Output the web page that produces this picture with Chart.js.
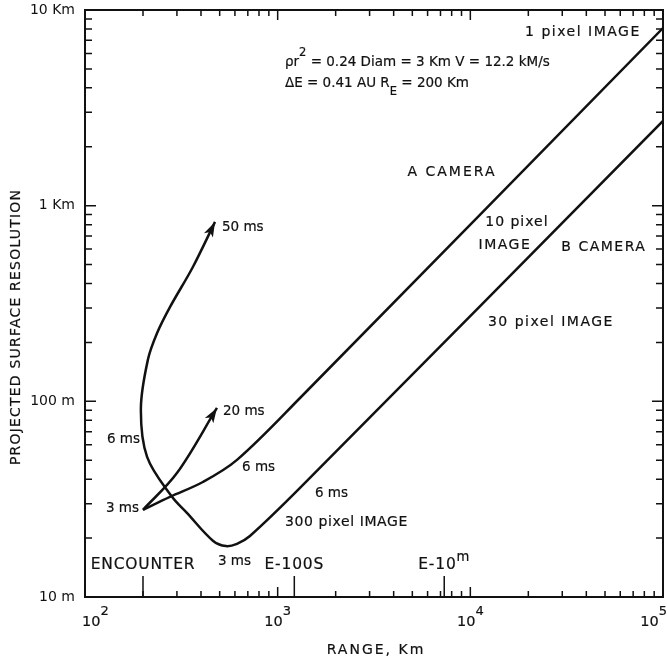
<!DOCTYPE html>
<html>
<head>
<meta charset="utf-8">
<script src="https://cdn.jsdelivr.net/npm/chart.js@4.4.1/dist/chart.umd.min.js"></script>
<style>
html, body { margin: 0; padding: 0; background: #fff; }
</style>
</head>
<body>
<canvas id="mycanvas" width="667" height="661"></canvas>
<script>
// range in Km, projected resolution in m

// A camera, 10 pixel image
var rangeA = [200, 276, 409, 615, 1306, 100000];
var resA = [27.9, 32.5, 38.7, 50.2, 104, 8090];

// 20 ms arrow
var range20 = [200, 300, 484];
var res20 = [27.9, 43, 92.5];

// B camera, 30 pixel image, curling back up to the 50 ms arrow
var rangeB = [100000, 1306, 718, 615, 539, 461, 338, 283, 210, 195, 212, 237, 276, 363, 473];
var resB = [2710, 36.1, 20.5, 18.7, 18.2, 19.4, 26.9, 32.5, 52, 92, 163, 224, 303, 486, 826];

// axis ticks
var xTickValues = [100, 1000, 10000, 100000];
var xTickLabels = ['10^2', '10^3', '10^4', '10^5'];
var yTickValues = [10, 100, 1000, 10000];
var yTickLabels = ['10 m', '100 m', '1 Km', '10 Km'];
var minorMult = [2, 3, 4, 5, 6, 7, 8, 9];

// event marks on the range axis
var eventLabels = ['ENCOUNTER', 'E-100S', 'E-10^m'];
var eventRange = [200, 1220, 7320];

var FONT = '"DejaVu Sans", sans-serif';

// text notes, placed in data coordinates
var notes = [
	{text: '1 pixel IMAGE', x: 38400, y: 7720, align: 'center', size: 14, sp: 1.5},
	{text: 'ρr^2 = 0.24 Diam = 3 Km V = 12.2 kM/s', x: 1091, y: 5423, align: 'left', size: 13.5, sp: 0},
	{text: 'ΔE = 0.41 AU R_E = 200 Km', x: 1091, y: 4188, align: 'left', size: 13.5, sp: 0},
	{text: 'A CAMERA', x: 8030, y: 1486, align: 'center', size: 14, sp: 2},
	{text: '10 pixel', x: 17450, y: 825, align: 'center', size: 14, sp: 1},
	{text: 'IMAGE', x: 15120, y: 630, align: 'center', size: 14, sp: 1.5},
	{text: 'B CAMERA', x: 49350, y: 615, align: 'center', size: 14, sp: 1.5},
	{text: '30 pixel IMAGE', x: 26200, y: 254.7, align: 'center', size: 14, sp: 1.5},
	{text: '50 ms', x: 514, y: 769, align: 'left', size: 13.5, sp: 0},
	{text: '20 ms', x: 520, y: 88.3, align: 'left', size: 13.5, sp: 0},
	{text: '6 ms', x: 130, y: 63.5, align: 'left', size: 13.5, sp: 0},
	{text: '3 ms', x: 128.5, y: 28.5, align: 'left', size: 13.5, sp: 0},
	{text: '6 ms', x: 653, y: 45.7, align: 'left', size: 13.5, sp: 0},
	{text: '6 ms', x: 1562, y: 34.0, align: 'left', size: 13.5, sp: 0},
	{text: '300 pixel IMAGE', x: 1091, y: 24.2, align: 'left', size: 14, sp: 0.6},
	{text: '3 ms', x: 490, y: 15.1, align: 'left', size: 13.5, sp: 0}
];

function pts(xs, ys) {
	return xs.map(function(v, i) { return {x: v, y: ys[i]}; });
}

// text with ^x superscript and _x subscript
function richText(ctx, text, x, y, o) {
	var size = o.size, raise = o.raise || 0.7, supScale = o.supScale || 0.85;
	var segs = [];
	for (var i = 0; i < text.length; i++) {
		var c = text[i];
		if ((c === '^' || c === '_') && i + 1 < text.length) {
			segs.push({t: text[i + 1], mode: c});
			i++;
		} else if (segs.length && segs[segs.length - 1].mode === '') {
			segs[segs.length - 1].t += c;
		} else {
			segs.push({t: c, mode: ''});
		}
	}
	ctx.letterSpacing = (o.sp || 0) + 'px';
	var total = 0;
	segs.forEach(function(s) {
		s.fs = s.mode ? size * supScale : size;
		ctx.font = s.fs + 'px ' + FONT;
		s.w = ctx.measureText(s.t).width;
		total += s.w;
	});
	var cx = o.align === 'center' ? x - total / 2 : x;
	if (o.minX !== undefined && cx < o.minX) cx = o.minX;
	if (o.maxX !== undefined && cx + total > o.maxX) cx = o.maxX - total;
	ctx.textAlign = 'left';
	ctx.textBaseline = 'middle';
	ctx.lineWidth = 0.2;
	segs.forEach(function(s) {
		ctx.font = s.fs + 'px ' + FONT;
		var dy = s.mode === '^' ? -size * raise : (s.mode === '_' ? size * 0.6 : 0);
		ctx.fillText(s.t, cx, y + dy);
		ctx.strokeText(s.t, cx, y + dy);
		cx += s.w;
	});
	ctx.letterSpacing = '0px';
}

var framePlugin = {
	id: 'frame',
	afterDatasetsDraw: function(chart) {
		var ctx = chart.ctx, ca = chart.chartArea;
		var xs = chart.scales.x, ys = chart.scales.y;
		ctx.save();
		ctx.strokeStyle = '#111';
		ctx.fillStyle = '#111';

		// arrow heads
		chart.data.datasets.forEach(function(ds, i) {
			if (!ds.arrowHead) return;
			var meta = chart.getDatasetMeta(i);
			var n = meta.data.length;
			var tip = meta.data[n - 1];
			var bx = tip.cp1x, by = tip.cp1y;
			if (bx === undefined || (Math.abs(bx - tip.x) < 0.5 && Math.abs(by - tip.y) < 0.5)) {
				bx = meta.data[n - 2].x; by = meta.data[n - 2].y;
			}
			var a = Math.atan2(tip.y - by, tip.x - bx);
			var len = 15, half = 5;
			ctx.beginPath();
			ctx.moveTo(tip.x, tip.y);
			ctx.lineTo(tip.x - len * Math.cos(a) + half * Math.sin(a), tip.y - len * Math.sin(a) - half * Math.cos(a));
			ctx.lineTo(tip.x - len * Math.cos(a) * 0.75, tip.y - len * Math.sin(a) * 0.75);
			ctx.lineTo(tip.x - len * Math.cos(a) - half * Math.sin(a), tip.y - len * Math.sin(a) + half * Math.cos(a));
			ctx.closePath();
			ctx.fill();
		});

		// frame
		ctx.lineWidth = 2;
		ctx.strokeRect(ca.left, ca.top, ca.right - ca.left, ca.bottom - ca.top);

		// inward ticks
		ctx.lineWidth = 1.5;
		function decades(scale, fn) {
			var lo = Math.round(Math.log10(scale.min)), hi = Math.round(Math.log10(scale.max));
			for (var k = lo; k <= hi; k++) {
				fn(Math.pow(10, k), true);
				if (k < hi) minorMult.forEach(function(m) { fn(m * Math.pow(10, k), false); });
			}
		}
		ctx.beginPath();
		decades(xs, function(v, major) {
			var px = xs.getPixelForValue(v), L = major ? 10 : 6;
			ctx.moveTo(px, ca.bottom); ctx.lineTo(px, ca.bottom - L);
			ctx.moveTo(px, ca.top); ctx.lineTo(px, ca.top + L);
		});
		decades(ys, function(v, major) {
			var py = ys.getPixelForValue(v), L = major ? 11 : 7;
			ctx.moveTo(ca.left, py); ctx.lineTo(ca.left + L, py);
			ctx.moveTo(ca.right, py); ctx.lineTo(ca.right - L, py);
		});
		ctx.stroke();

		// event marks
		ctx.lineWidth = 1.5;
		ctx.beginPath();
		eventRange.forEach(function(r) {
			var px = xs.getPixelForValue(r);
			ctx.moveTo(px, ca.bottom); ctx.lineTo(px, ca.bottom - 21);
		});
		ctx.stroke();

		// range axis labels
		xTickValues.forEach(function(v, i) {
			richText(ctx, xTickLabels[i], xs.getPixelForValue(v), ca.bottom + 25,
				{size: 14.5, align: 'center', minX: ca.left - 3, maxX: chart.width, raise: 0.75, supScale: 0.9});
		});

		eventLabels.forEach(function(t, i) {
			richText(ctx, t, xs.getPixelForValue(eventRange[i]), ys.getPixelForValue(14.6),
				{size: 15.5, sp: 0.8, align: 'center', raise: 0.5});
		});

		// notes
		notes.forEach(function(nt) {
			richText(ctx, nt.text, xs.getPixelForValue(nt.x), ys.getPixelForValue(nt.y),
				{size: nt.size, sp: nt.sp, align: nt.align});
		});

		// axis titles
		richText(ctx, 'RANGE, Km', (ca.left + ca.right) / 2 + 2, chart.height - 11, {size: 14, sp: 2, align: 'center'});
		ctx.translate(16, 327);
		ctx.rotate(-Math.PI / 2);
		richText(ctx, 'PROJECTED SURFACE RESOLUTION', 0, 0, {size: 14, sp: 1.2, align: 'center'});
		ctx.restore();
	}
};

var lineStyle = {
	borderColor: '#111',
	borderWidth: 2.5,
	pointRadius: 0,
	fill: false,
	tension: 0.35
};

var ctx = document.getElementById('mycanvas');

var chart = new Chart(ctx, {
	type: 'line',
	data: {
		datasets: [
			Object.assign({label: 'A camera', data: pts(rangeA, resA)}, lineStyle),
			Object.assign({label: '20 ms', data: pts(range20, res20), arrowHead: true}, lineStyle),
			Object.assign({label: 'B camera', data: pts(rangeB, resB), arrowHead: true}, lineStyle)
		]
	},
	options: {
		responsive: false,
		animation: false,
		events: [],
		layout: {padding: {top: 10, right: 4, left: 0, bottom: 0}},
		plugins: {
			legend: {display: false},
			tooltip: {enabled: false}
		},
		scales: {
			x: {
				type: 'logarithmic',
				position: 'bottom',
				min: 100,
				max: 100000,
				grid: {display: false, drawTicks: false},
				border: {display: false},
				afterBuildTicks: function(scale) {
					scale.ticks = xTickValues.map(function(v) { return {value: v}; });
				},
				afterFit: function(scale) {
					scale.height = 64;
					scale.paddingLeft = 0;
					scale.paddingRight = 0;
				},
				ticks: {display: false}
			},
			y: {
				type: 'logarithmic',
				position: 'left',
				min: 10,
				max: 10000,
				grid: {display: false, drawTicks: false},
				border: {display: false},
				afterBuildTicks: function(scale) {
					scale.ticks = yTickValues.map(function(v) { return {value: v}; });
				},
				afterFit: function(scale) {
					scale.width = 85;
					scale.paddingTop = 0;
					scale.paddingBottom = 0;
				},
				ticks: {
					autoSkip: false,
					padding: 10,
					color: '#111',
					font: {family: FONT, size: 14},
					callback: function(value, index) { return yTickLabels[index]; }
				}
			}
		}
	},
	plugins: [framePlugin]
});
</script>
</body>
</html>
